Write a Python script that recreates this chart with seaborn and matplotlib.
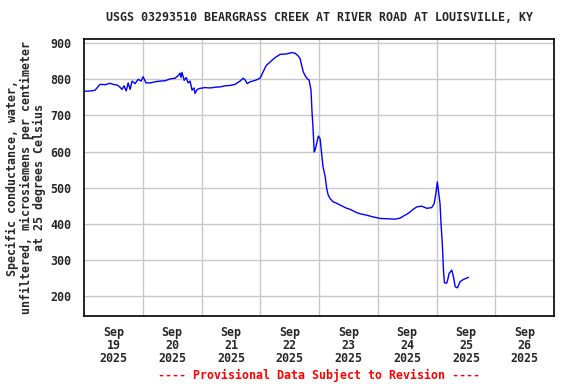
import matplotlib
matplotlib.use("Agg")
import matplotlib.pyplot as plt
import pandas as pd
import seaborn as sns

# Hours after 2025-09-19 00:00 and specific conductance
hours = [0.4, 3.3, 4.5, 6.5, 8.6, 10.6, 11.8, 13.5, 14.7, 15.5, 16.3, 17.2, 18.0,
         18.8, 19.6, 20.8, 22.1, 23.3, 24.1, 25.3, 27.0, 29.0, 31.0, 33.1, 35.1,
         37.2, 38.4, 39.2, 39.6, 40.0, 40.9, 41.7, 42.5, 43.3, 44.1, 44.9, 45.3,
         46.2, 47.4, 49.4, 51.5, 53.5, 55.6, 57.6, 59.6, 61.7, 63.7, 65.0, 65.8,
         66.6, 67.8, 69.9, 71.9, 73.1, 74.4, 76.0, 78.0, 80.1, 82.5, 85.0, 86.2,
         87.4, 88.2, 89.5, 90.3, 91.1, 91.9, 92.7, 93.1, 93.5, 94.0, 94.4, 95.0,
         95.7, 96.4, 97.1, 97.6, 98.5, 99.1, 99.7, 100.5, 101.7, 102.9, 104.6,
         105.8, 107.3, 108.7, 111.4, 112.7, 115.5, 117.6, 120.9, 124.2, 127.0,
         129.1, 130.3, 131.9, 133.2, 134.4, 135.9, 137.9, 140.0, 142.0, 143.0,
         143.7, 144.3, 144.9, 145.4, 145.8, 146.4, 146.8, 147.2, 148.1, 148.5,
         149.1, 150.2, 150.9, 151.6, 152.5, 153.6, 154.9, 157.0]
conductance = [767, 768, 770, 786, 785, 789, 786, 784, 778, 772, 782, 768, 790,
               772, 795, 788, 800, 795, 807, 790, 790, 793, 795, 796, 801,
               803, 810, 817, 805, 819, 797, 805, 790, 795, 770, 776, 761,
               772, 775, 777, 776, 778, 779, 782, 783, 786, 795, 803, 798,
               788, 793, 797, 803, 820, 838, 848, 860, 869, 870, 874, 872,
               865, 858, 821, 810, 802, 798, 770, 710, 668, 599, 605, 622,
               643, 636, 590, 558, 530, 498, 480, 470, 461, 458, 452,
               448, 443, 440, 431, 428, 424, 420, 415, 414, 413,
               416, 421, 427, 433, 440, 447, 449, 443, 445, 456,
               484, 516, 484, 456, 401, 336, 272, 237, 236, 244,
               263, 272, 253, 226, 223, 240, 246, 252]

day_labels = ["Sep\n19\n2025", "Sep\n20\n2025", "Sep\n21\n2025", "Sep\n22\n2025",
              "Sep\n23\n2025", "Sep\n24\n2025", "Sep\n25\n2025", "Sep\n26\n2025"]
y_ticks = [200, 300, 400, 500, 600, 700, 800, 900]

start = pd.Timestamp("2025-09-19")
df = pd.DataFrame({
    "time": start + pd.to_timedelta(hours, unit="h"),
    "value": conductance,
})

sns.set_style("white")
plt.rcParams["font.family"] = ["DejaVu Sans Mono"]
plt.rcParams["font.weight"] = "bold"

fig, ax = plt.subplots(figsize=(5.76, 3.84), dpi=100)
fig.subplots_adjust(left=0.146, right=0.962, bottom=0.177, top=0.898)

sns.lineplot(data=df, x="time", y="value", color="#0000ff", linewidth=1.0, ax=ax)

ax.set_xlim(start, start + pd.Timedelta(days=8))
ax.set_ylim(145, 911)

# day boundaries as grid, labels at noon
midnights = [start + pd.Timedelta(days=i) for i in range(1, 8)]
noons = [start + pd.Timedelta(hours=12 + 24 * i) for i in range(8)]
ax.set_xticks(noons)
ax.set_xticklabels(day_labels, fontsize=8.4, fontweight="bold", linespacing=1.0)
ax.set_xticks(midnights, minor=True)
ax.set_yticks(y_ticks)
ax.set_yticklabels([str(v) for v in y_ticks], fontsize=8.4, fontweight="bold")

ax.grid(False)
ax.grid(which="minor", axis="x", color="#c8c8c8", linewidth=1.0)
ax.grid(which="major", axis="y", color="#c8c8c8", linewidth=1.0)
ax.set_axisbelow(True)
ax.tick_params(which="both", length=0)
ax.tick_params(axis="x", pad=7)
ax.tick_params(axis="y", pad=9)
for s in ax.spines.values():
    s.set_color("black")
    s.set_linewidth(1.2)

ax.set_xlabel("")
ax.set_ylabel("Specific conductance, water,\nunfiltered, microsiemens per centimeter\nat 25 degrees Celsius",
              fontsize=8.4, fontweight="bold", linespacing=1.08, labelpad=3)
ax.set_title("USGS 03293510 BEARGRASS CREEK AT RIVER ROAD AT LOUISVILLE, KY",
             fontsize=8.4, fontweight="bold", pad=13)

fig.text(0.553, 0.005, "---- Provisional Data Subject to Revision ----",
         color="red", fontsize=8.4, fontweight="bold", ha="center", va="bottom")

fig.savefig("out.png", dpi=100)
